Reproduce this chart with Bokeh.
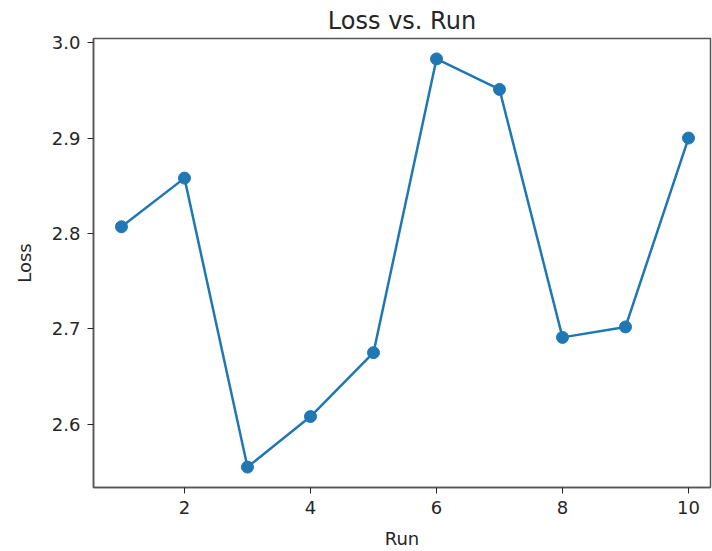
from bokeh.plotting import figure
from bokeh.models import FixedTicker, PrintfTickFormatter, Range1d
from bokeh.embed import file_html
from bokeh.resources import INLINE

# Data
runs = [1, 2, 3, 4, 5, 6, 7, 8, 9, 10]
loss = [2.807, 2.858, 2.555, 2.608, 2.675, 2.983, 2.951, 2.691, 2.702, 2.900]
x_ticks = [2, 4, 6, 8, 10]
y_ticks = [2.6, 2.7, 2.8, 2.9, 3.0]

FONT = "DejaVu Sans"
TXT = "#262626"
SPINE = "#555555"
BLUE = "#1f77b4"

p = figure(width=712, height=551, output_backend="svg", toolbar_location=None,
           title="Loss vs. Run",
           x_range=Range1d(0.556, 10.349), y_range=Range1d(2.5336, 3.0044),
           min_border_left=93, min_border_right=2, min_border_top=38, min_border_bottom=62)

p.line(runs, loss, line_color=BLUE, line_width=2.5)
p.scatter(runs, loss, size=12, fill_color=BLUE, line_color=BLUE)

p.title.text_font = FONT
p.title.text_font_size = "24px"
p.title.text_font_style = "normal"
p.title.text_color = TXT
p.title.align = "center"
p.title.standoff = 8

p.xgrid.visible = False
p.ygrid.visible = False
p.outline_line_color = SPINE
p.outline_line_width = 1.5
p.background_fill_color = "white"
p.border_fill_color = "white"

for ax in (p.xaxis[0], p.yaxis[0]):
    ax.axis_line_color = SPINE
    ax.axis_line_width = 1.5
    ax.major_tick_line_color = TXT
    ax.major_tick_in = 0
    ax.major_tick_out = 6
    ax.minor_tick_line_color = None
    ax.major_label_text_font = FONT
    ax.major_label_text_font_size = "18px"
    ax.major_label_text_color = TXT
    ax.axis_label_text_font = FONT
    ax.axis_label_text_font_size = "18px"
    ax.axis_label_text_font_style = "normal"
    ax.axis_label_text_color = TXT
    ax.major_label_standoff = 7

p.xaxis.ticker = FixedTicker(ticks=x_ticks)
p.yaxis.ticker = FixedTicker(ticks=y_ticks)
p.yaxis.formatter = PrintfTickFormatter(format="%.1f")
p.xaxis.axis_label = "Run"
p.yaxis.axis_label = "Loss"
p.xaxis.axis_label_standoff = 11
p.yaxis.axis_label_standoff = 14

open("out.html", "w").write(file_html(p, INLINE))
